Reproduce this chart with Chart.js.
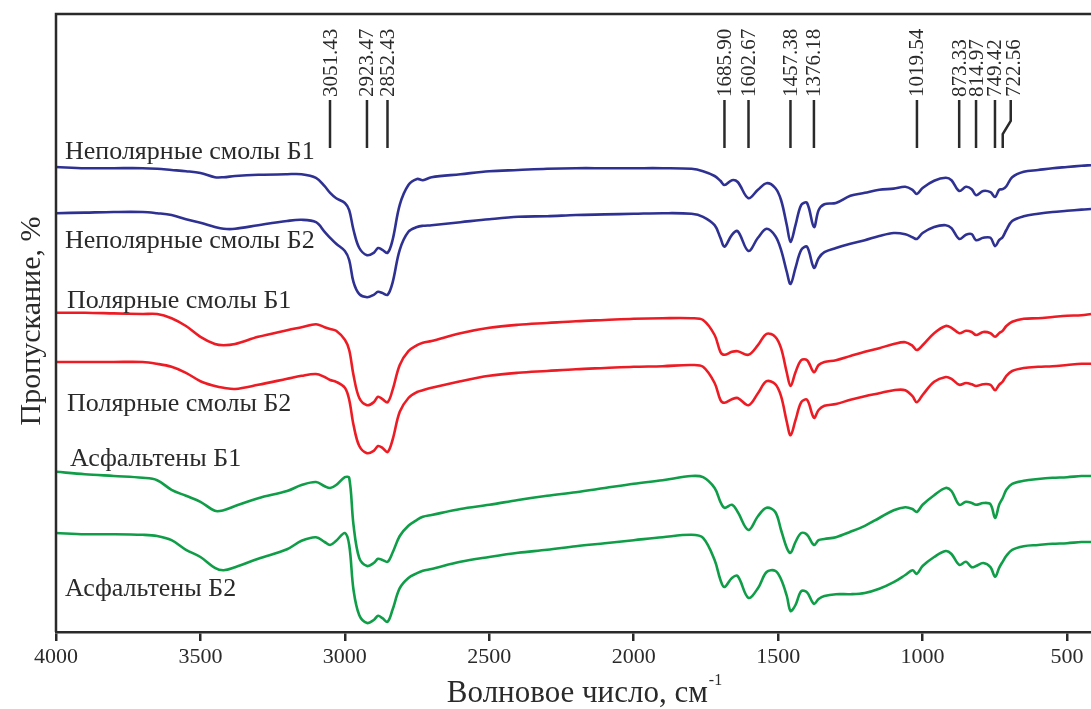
<!DOCTYPE html>
<html>
<head>
<meta charset="utf-8">
<script src="https://cdn.jsdelivr.net/npm/chart.js@4.4.1/dist/chart.umd.min.js"></script>
<style>
  html, body { margin: 0; padding: 0; background: #fff; overflow: hidden; }
  #spectra { display: block; }
</style>
</head>
<body>
<canvas id="spectra" width="1091" height="709"></canvas>
<script>
// ИК-спектры: волновое число, см-1 (общая сетка для всех образцов)
const wavenumbers = [
  4000, 3900, 3800, 3700, 3650, 3600, 3550, 3500, 3450, 3420, 3380, 3300, 3200, 3150, 3100,
  3070, 3051, 3030, 3000, 2985, 2970, 2950, 2923, 2900, 2885, 2870, 2852, 2835, 2810, 2780,
  2750, 2730, 2700, 2600, 2500, 2400, 2300, 2200, 2100, 2000, 1900, 1800, 1760, 1720, 1700,
  1686, 1660, 1640, 1603, 1570, 1540, 1510, 1490, 1470, 1457, 1440, 1420, 1400, 1376, 1360,
  1340, 1300, 1250, 1200, 1150, 1100, 1060, 1035, 1020, 1000, 960, 920, 900, 873, 850,
  830, 815, 790, 765, 749, 735, 723, 710, 690, 650, 600, 550, 500, 450, 417
];

// пропускание, отн. ед. (спектры разнесены по вертикали)
const nonpolarB1 = [
  77.5, 77.3, 77.3, 77.3, 77.2, 77.0, 76.8, 76.5, 75.8, 75.8, 76.0, 76.2, 76.3, 76.3, 75.7,
  74.3, 73.2, 72.3, 71.5, 70.3, 67.0, 64.0, 62.8, 63.2, 64.0, 63.7, 63.2, 65.3, 71.2, 74.5,
  75.5, 75.3, 75.8, 76.3, 76.8, 77.0, 77.2, 77.3, 77.3, 77.3, 77.3, 77.2, 76.8, 76.0, 75.2,
  74.5, 75.3, 75.0, 72.3, 73.7, 74.8, 74.0, 72.0, 67.8, 65.0, 67.8, 71.2, 71.5, 67.5, 70.3,
  71.3, 71.5, 72.7, 73.2, 73.7, 73.9, 74.2, 73.7, 73.0, 74.0, 75.2, 75.7, 75.3, 73.5, 74.2,
  73.8, 72.8, 73.5, 73.3, 72.5, 73.7, 73.8, 74.3, 75.8, 76.7, 77.0, 77.3, 77.5, 77.7, 77.8
];
const nonpolarB2 = [
  69.8, 69.9, 70.0, 70.0, 69.8, 69.5, 68.8, 68.2, 67.5, 67.2, 67.2, 67.8, 68.5, 68.7, 68.3,
  66.7, 65.7, 64.7, 63.5, 62.0, 58.3, 56.3, 55.8, 56.2, 56.7, 56.5, 56.2, 58.2, 63.7, 66.7,
  67.5, 67.7, 67.8, 68.3, 68.8, 69.2, 69.3, 69.5, 69.6, 69.7, 69.8, 69.7, 69.2, 67.8, 65.7,
  64.2, 66.2, 66.8, 63.5, 65.7, 67.2, 66.0, 63.7, 60.0, 58.0, 60.7, 63.7, 64.2, 60.7, 62.3,
  63.3, 64.0, 64.7, 65.3, 66.0, 66.5, 66.3, 65.8, 65.5, 66.5, 67.5, 67.8, 67.3, 65.5, 66.2,
  66.3, 65.3, 65.7, 65.7, 64.3, 65.3, 65.8, 67.0, 68.5, 69.3, 69.7, 70.0, 70.2, 70.4, 70.5
];
const polarB1 = [
  53.2, 53.2, 53.1, 53.0, 53.0, 52.3, 51.0, 49.2, 48.0, 47.8, 48.0, 49.2, 50.3, 50.8, 51.3,
  50.8, 50.5, 50.2, 48.7, 47.0, 42.8, 39.0, 37.8, 38.3, 39.2, 38.8, 38.3, 40.3, 44.5, 46.8,
  47.8, 48.2, 48.5, 49.8, 50.7, 51.2, 51.5, 51.8, 52.0, 52.2, 52.3, 52.3, 52.0, 49.5, 46.7,
  46.2, 46.7, 46.8, 46.2, 47.8, 49.7, 49.2, 47.3, 43.2, 41.0, 43.3, 45.3, 45.3, 43.3, 44.5,
  45.0, 45.3, 46.0, 46.7, 47.3, 48.0, 48.3, 47.7, 47.0, 47.8, 49.8, 51.0, 50.7, 49.8, 50.2,
  50.0, 49.5, 50.0, 49.8, 49.2, 49.8, 50.2, 51.0, 51.7, 52.2, 52.3, 52.5, 52.7, 52.8, 53.0
];
const polarB2 = [
  45.0, 45.0, 45.0, 45.0, 44.7, 44.2, 43.2, 41.8, 41.0, 40.7, 40.5, 41.2, 42.2, 42.7, 43.0,
  42.5, 42.0, 41.7, 40.7, 38.7, 34.5, 31.0, 29.8, 30.2, 31.0, 30.7, 30.0, 32.0, 36.7, 39.0,
  40.0, 40.3, 40.7, 41.8, 42.7, 43.2, 43.5, 43.8, 44.0, 44.2, 44.3, 44.5, 44.2, 41.5, 38.7,
  38.2, 38.8, 39.0, 37.8, 39.8, 41.8, 41.3, 39.3, 35.0, 32.8, 35.3, 38.3, 38.7, 35.7, 37.0,
  37.7, 38.0, 38.7, 39.3, 39.8, 40.3, 40.3, 39.3, 38.3, 39.5, 41.7, 42.5, 42.2, 41.2, 41.5,
  41.3, 41.0, 41.3, 41.2, 40.3, 41.2, 41.7, 42.7, 43.5, 44.0, 44.2, 44.3, 44.5, 44.7, 44.7
];
const asphaltenesB1 = [
  26.7, 26.3, 26.0, 25.7, 25.3, 23.7, 22.7, 21.7, 20.2, 20.3, 21.0, 22.3, 23.5, 24.5, 25.0,
  24.3, 24.0, 24.5, 25.8, 25.7, 17.8, 12.3, 11.0, 11.5, 12.2, 12.0, 11.7, 13.2, 16.0, 17.7,
  18.7, 19.2, 19.5, 20.5, 21.2, 22.0, 22.7, 23.3, 24.0, 24.7, 25.3, 26.0, 25.8, 24.0, 21.7,
  20.7, 21.2, 20.0, 17.0, 19.3, 20.7, 20.0, 17.0, 14.0, 13.2, 15.0, 16.5, 16.2, 14.5, 15.3,
  15.5, 15.8, 16.7, 17.7, 19.0, 20.3, 20.8, 20.5, 20.0, 21.2, 22.8, 24.0, 23.5, 21.2, 21.7,
  21.5, 21.2, 21.5, 21.3, 19.0, 21.2, 22.3, 23.7, 24.7, 25.2, 25.5, 25.7, 25.8, 26.0, 26.0
];
const asphaltenesB2 = [
  16.5, 16.3, 16.3, 16.2, 16.0, 15.3, 13.7, 12.5, 10.7, 10.3, 10.8, 12.2, 13.8, 15.2, 15.8,
  15.0, 14.5, 15.2, 16.5, 14.5, 7.0, 2.8, 1.5, 2.0, 2.7, 2.3, 1.7, 3.7, 7.3, 9.0,
  9.8, 10.2, 10.5, 11.7, 12.5, 13.2, 13.7, 14.3, 14.8, 15.3, 15.8, 16.2, 15.7, 12.0, 8.7,
  7.5, 9.0, 9.3, 5.7, 7.3, 10.0, 10.2, 8.8, 6.0, 3.5, 4.5, 6.8, 6.6, 4.7, 5.5,
  6.0, 6.3, 6.3, 6.5, 7.2, 8.3, 9.5, 10.3, 9.7, 11.0, 12.5, 13.5, 13.0, 11.2, 11.7,
  10.8, 11.0, 11.5, 10.8, 9.2, 10.7, 11.7, 12.7, 13.7, 14.3, 14.5, 14.7, 14.8, 15.0, 15.0
];

const seriesNames = [
  'Неполярные смолы Б1', 'Неполярные смолы Б2',
  'Полярные смолы Б1', 'Полярные смолы Б2',
  'Асфальтены Б1', 'Асфальтены Б2'
];
const xTicks = [4000, 3500, 3000, 2500, 2000, 1500, 1000, 500];

// отмеченные полосы поглощения
const peakNames = ['3051.43', '2923.47', '2852.43', '1685.90', '1602.67', '1457.38',
  '1376.18', '1019.54', '873.33', '814.97', '749.42', '722.56'];
const peakValues = peakNames.map(Number);

const BLUE = '#2e3192';
const RED = '#ed1c24';
const GREEN = '#0f9d48';
const INK = '#2a2a2a';
const SERIF = '"Liberation Serif", "Times New Roman", serif';

const seriesValues = [nonpolarB1, nonpolarB2, polarB1, polarB2, asphaltenesB1, asphaltenesB2];
const seriesColors = [BLUE, BLUE, RED, RED, GREEN, GREEN];

// подписи кривых: сдвиг от левой оси (px) и базовая линия в единицах оси y
const nameSpots = [[9, 78.8], [9, 64.0], [11, 54.0], [11, 36.8], [14, 27.7], [9, 6.0]];

const framePlugin = {
  id: 'frame',
  afterDraw(chart) {
    const { ctx, chartArea: a, scales: { x, y } } = chart;
    ctx.save();

    // левая и верхняя границы поля
    ctx.strokeStyle = INK;
    ctx.lineWidth = 2.5;
    ctx.beginPath();
    ctx.moveTo(a.left, a.bottom);
    ctx.lineTo(a.left, a.top);
    ctx.lineTo(a.right + 2, a.top);
    ctx.stroke();

    // названия образцов
    ctx.fillStyle = INK;
    ctx.font = '26px ' + SERIF;
    ctx.textAlign = 'left';
    ctx.textBaseline = 'alphabetic';
    seriesNames.forEach((name, i) => {
      ctx.fillText(name, a.left + nameSpots[i][0], y.getPixelForValue(nameSpots[i][1]));
    });

    // метки полос: вертикальная черта и повернутое число
    const lineTop = a.top + 86, lineBottom = a.top + 134;
    ctx.lineWidth = 2.5;
    ctx.font = '21px ' + SERIF;
    ctx.textBaseline = 'middle';
    peakValues.forEach((v, i) => {
      const px = x.getPixelForValue(v);
      let topX = px;
      ctx.beginPath();
      if (i === peakValues.length - 1) {
        // последняя черта изогнута, чтобы не слиться с соседней
        topX = px + 8;
        ctx.moveTo(px, lineBottom);
        ctx.lineTo(px, lineBottom - 14);
        ctx.lineTo(topX, lineBottom - 27);
        ctx.lineTo(topX, lineTop);
      } else {
        ctx.moveTo(px, lineBottom);
        ctx.lineTo(px, lineTop);
      }
      ctx.stroke();
      ctx.save();
      ctx.translate(topX + (i === peakValues.length - 1 ? 3 : 0), lineTop - 3);
      ctx.rotate(-Math.PI / 2);
      ctx.textAlign = 'left';
      ctx.fillText(peakNames[i], 0, 1);
      ctx.restore();
    });

    // подпись оси x с верхним индексом
    ctx.textBaseline = 'alphabetic';
    const main = 'Волновое число, см';
    const sup = '-1';
    ctx.font = '31px ' + SERIF;
    const wMain = ctx.measureText(main).width;
    ctx.font = '16px ' + SERIF;
    const wSup = ctx.measureText(sup).width;
    const start = 584 - (wMain + wSup) / 2;
    ctx.font = '31px ' + SERIF;
    ctx.fillText(main, start, 702);
    ctx.font = '16px ' + SERIF;
    ctx.fillText(sup, start + wMain + 1, 685);

    // подпись оси y
    ctx.save();
    ctx.translate(40, (a.top + a.bottom) / 2 - 2);
    ctx.rotate(-Math.PI / 2);
    ctx.font = '30px ' + SERIF;
    ctx.textAlign = 'center';
    ctx.fillText('Пропускание, %', 0, 0);
    ctx.restore();

    ctx.restore();
  }
};

new Chart(document.getElementById('spectra'), {
  type: 'line',
  data: {
    datasets: seriesValues.map((vals, i) => ({
      label: seriesNames[i],
      data: wavenumbers.map((w, k) => ({ x: w, y: vals[k] })),
      borderColor: seriesColors[i],
      borderWidth: 2.6,
      pointRadius: 0,
      fill: false,
      tension: 0.35
    }))
  },
  options: {
    responsive: false,
    animation: false,
    layout: { padding: { left: 56, top: 14, right: 0, bottom: 0 } },
    plugins: { legend: { display: false }, tooltip: { enabled: false } },
    scales: {
      x: {
        type: 'linear',
        reverse: true,
        min: 417,
        max: 4000,
        afterBuildTicks: (scale) => { scale.ticks = xTicks.map(v => ({ value: v })); },
        afterFit: (scale) => { scale.height = 77; },
        grid: { drawOnChartArea: false, drawTicks: true, tickLength: 9, color: INK, lineWidth: 2.5 },
        border: { display: true, color: INK, width: 2.5 },
        ticks: {
          color: INK,
          font: { family: SERIF, size: 22 },
          padding: 3,
          maxRotation: 0,
          callback: (v) => String(v)
        }
      },
      y: { display: false, min: 0, max: 103 }
    }
  },
  plugins: [framePlugin]
});
</script>
</body>
</html>
